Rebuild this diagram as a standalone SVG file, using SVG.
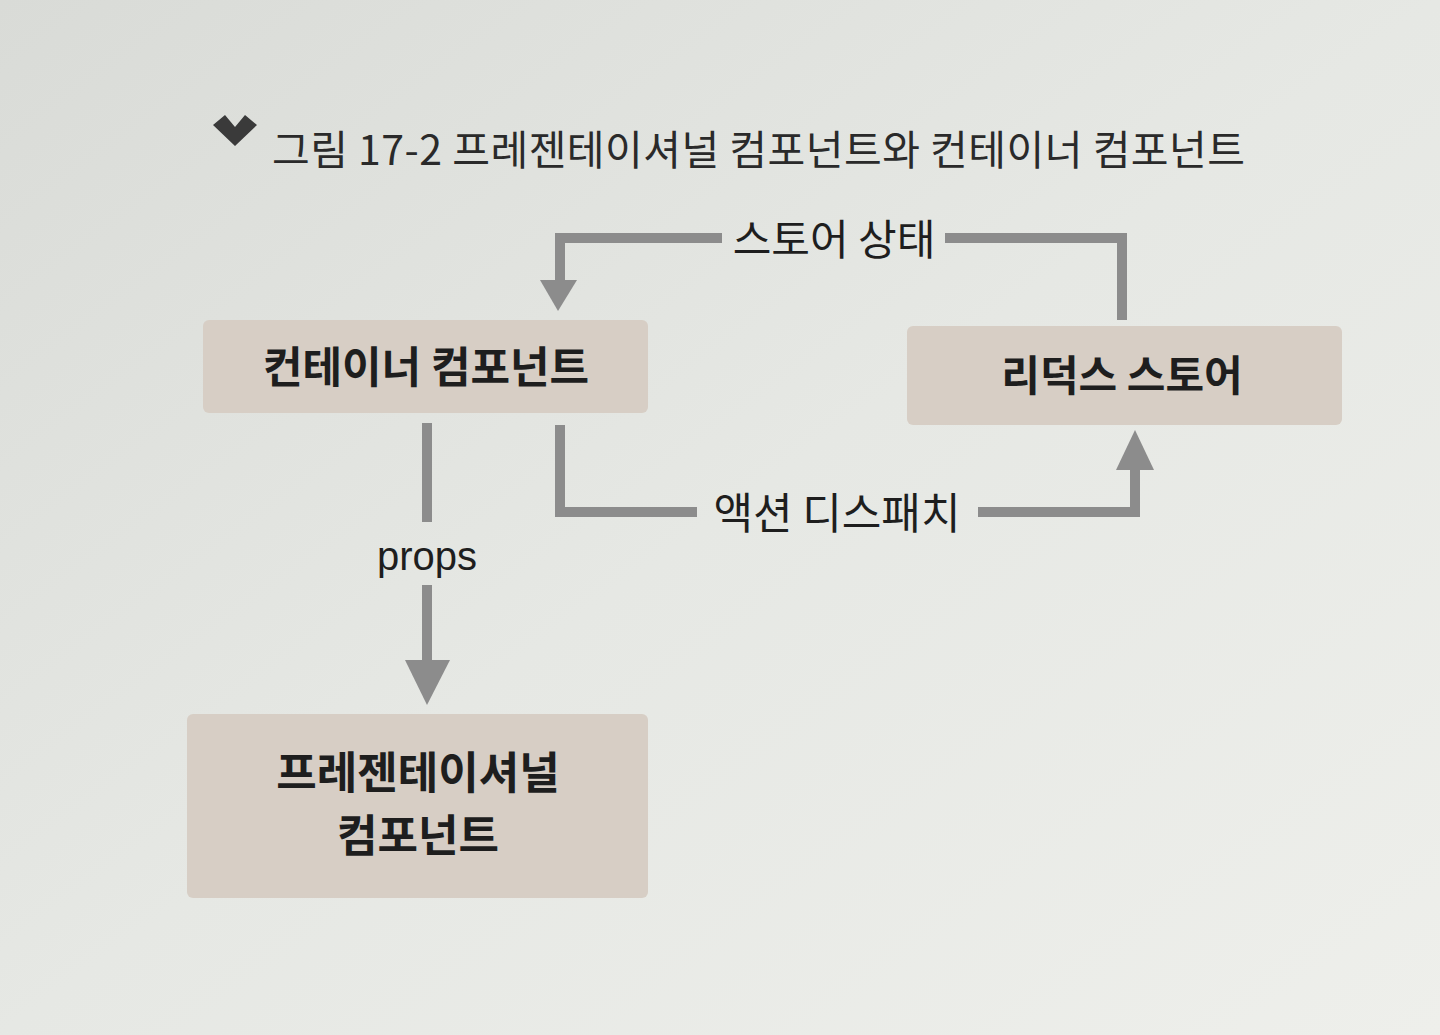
<svg xmlns="http://www.w3.org/2000/svg" width="1440" height="1035" viewBox="0 0 1440 1035">
<style>
.box{fill:#d7cec5;}
.lbl{font-family:"Noto Sans CJK KR","Noto Sans",sans-serif;font-weight:700;fill:#1e1e1e;text-anchor:middle;}
.elbl{font-family:"Noto Sans CJK KR","Noto Sans",sans-serif;font-weight:400;fill:#1e1e1e;text-anchor:middle;}
.line{fill:none;stroke:#8c8c8c;stroke-width:10;stroke-linejoin:miter;}
.head{fill:#8c8c8c;}
</style>
<defs>
<linearGradient id="bg" x1="0" y1="0" x2="1" y2="1">
<stop offset="0" stop-color="#d9dbd7"/>
<stop offset="0.5" stop-color="#e6e8e4"/>
<stop offset="1" stop-color="#eeefeb"/>
</linearGradient>
</defs>
<rect width="1440" height="1035" fill="url(#bg)"/>
<g id="title">
<path d="M213,125 L225,115 L235,127 L245,115 L257,125 L235,146 Z" fill="#3a3a3a"/>
<text x="272" y="165" font-family="'Noto Sans CJK KR','Noto Sans',sans-serif" font-size="41" fill="#2a2a2a" textLength="973" lengthAdjust="spacing">그림 17-2 프레젠테이셔널 컴포넌트와 컨테이너 컴포넌트</text>
</g>
<g id="container">
<rect class="box" x="203" y="320" width="445" height="93" rx="6"/>
<text class="lbl" x="426" y="383" font-size="43">컨테이너 컴포넌트</text>
</g>
<g id="store">
<rect class="box" x="907" y="326" width="435" height="99" rx="6"/>
<text class="lbl" x="1122" y="391" font-size="42">리덕스 스토어</text>
</g>
<g id="presentational">
<rect class="box" x="187" y="714" width="461" height="184" rx="6"/>
<text class="lbl" x="418" y="789" font-size="44">프레젠테이셔널</text>
<text class="lbl" x="418" y="852" font-size="44">컴포넌트</text>
</g>
<g id="connectors">
<polyline class="line" points="1122,320 1122,238 945,238"/>
<polyline class="line" points="722,238 560,238 560,282"/>
<polygon class="head" points="540,280 577,280 558,311"/>
<text class="elbl" x="834" y="255" font-size="42">스토어 상태</text>
<polyline class="line" points="560,425 560,512 697,512"/>
<polyline class="line" points="978,512 1135,512 1135,468"/>
<polygon class="head" points="1116,470 1154,470 1135,430"/>
<text class="elbl" x="837" y="529" font-size="43">액션 디스패치</text>
<line class="line" x1="427" y1="423" x2="427" y2="522"/>
<text x="427" y="570" font-family="'Liberation Sans',sans-serif" font-size="40" fill="#1e1e1e" text-anchor="middle">props</text>
<line class="line" x1="427" y1="585" x2="427" y2="662"/>
<polygon class="head" points="405,660 450,660 427,705"/>
</g>
</svg>
